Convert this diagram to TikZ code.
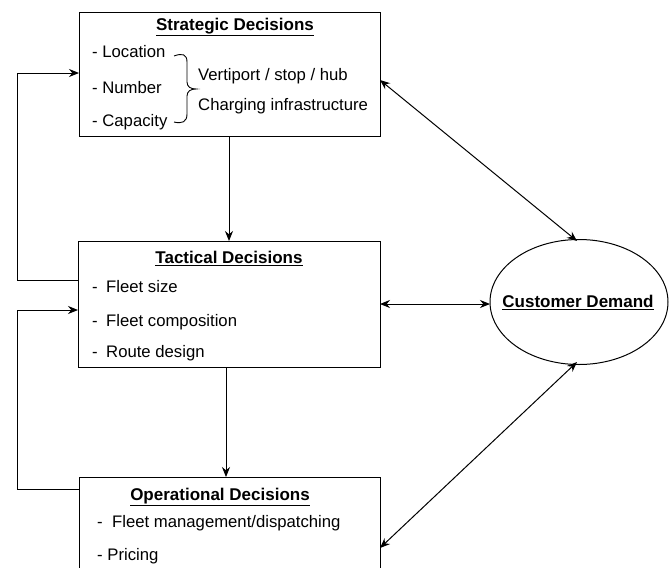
\documentclass[tikz,border=0pt]{standalone}
\usepackage{fontspec}
\setmainfont{Liberation Sans}
\usetikzlibrary{shapes.geometric,arrows.meta}
\begin{document}
\begin{tikzpicture}[x=1pt,y=-1pt,
  box/.style={draw,line width=1pt,inner sep=0},
  conn/.style={line width=1pt,-{Stealth[length=10pt,width=8pt]}},
  dconn/.style={line width=1pt,{Stealth[length=10pt,width=8pt]}-{Stealth[length=10pt,width=8pt]}},
  txt/.style={font=\fontsize{16.7}{20}\selectfont,anchor=west,inner sep=0,text height=12.1pt,text depth=3.5pt},
  ttl/.style={font=\fontsize{17}{20}\selectfont\bfseries,inner sep=0,text height=12.3pt,text depth=3.5pt}]
\useasboundingbox (0,0) rectangle (670,568);
\clip (0,0) rectangle (670,568);
% boxes
\draw[box] (79,12) rectangle (380,136);
\draw[box] (78,241) rectangle (380,367);
\draw[box] (79,477) rectangle (380,600);
\coordinate (sT) at (229,136); \coordinate (tT) at (229,241);
\coordinate (tB) at (226,367); \coordinate (oT) at (226,477);
% ellipse
\node[draw,ellipse,line width=1pt,minimum width=178pt,minimum height=125pt,inner sep=0] (cd) at (579,302) {};
\node[ttl] at (578,303) {\underline{Customer Demand}};
% strategic text
\node[ttl] at (235,26) {\underline{Strategic Decisions}};
\node[txt] at (92,53) {- Location};
\node[txt] at (92,89) {- Number};
\node[txt] at (92,122) {- Capacity};
\draw[line width=0.9pt] (174,56) .. controls (182,53) and (187,54) .. (187,62) -- (187,82)
  .. controls (187,87) and (191,89) .. (196,89) .. controls (191,89) and (187,91) .. (187,96)
  -- (187,114) .. controls (187,122) and (182,124) .. (174,122);
\node[txt] at (198,76) {Vertiport / stop / hub};
\node[txt] at (198,106) {Charging infrastructure};
% tactical
\node[ttl] at (229,259) {\underline{Tactical Decisions}};
\node[txt] at (92,288) {-};
\node[txt] at (106,288) {Fleet size};
\node[txt] at (92,322) {-};
\node[txt] at (106,322) {Fleet composition};
\node[txt] at (92,353) {-};
\node[txt] at (106,353) {Route design};
% operational
\node[ttl] at (220,496) {\underline{Operational Decisions}};
\node[txt] at (97,523) {-};
\node[txt] at (112,523) {Fleet management/dispatching};
\node[txt] at (97,556) {- Pricing};
% vertical arrows
\draw[conn] (sT) -- (tT);
\draw[conn] (tB) -- (oT);
% feedback loops
\coordinate (s1) at (78,280); \coordinate (s2) at (17,280); \coordinate (s3) at (17,73); \coordinate (s4) at (79,73);
\draw[conn] (s1) -- (s2) -- (s3) -- (s4);
\coordinate (o1) at (79,489); \coordinate (o2) at (17,489); \coordinate (o3) at (17,310); \coordinate (o4) at (78,310);
\draw[conn] (o1) -- (o2) -- (o3) -- (o4);
% demand links
\coordinate (sR) at (380,80); \coordinate (cdT) at (577,241);
\draw[dconn] (sR) -- (cdT);
\coordinate (tR) at (380,304); \coordinate (cdL) at (490,304);
\draw[dconn] (tR) -- (cdL);
\coordinate (oR) at (380,548); \coordinate (cdB) at (577,362);
\draw[dconn] (oR) -- (cdB);
\end{tikzpicture}
\end{document}
